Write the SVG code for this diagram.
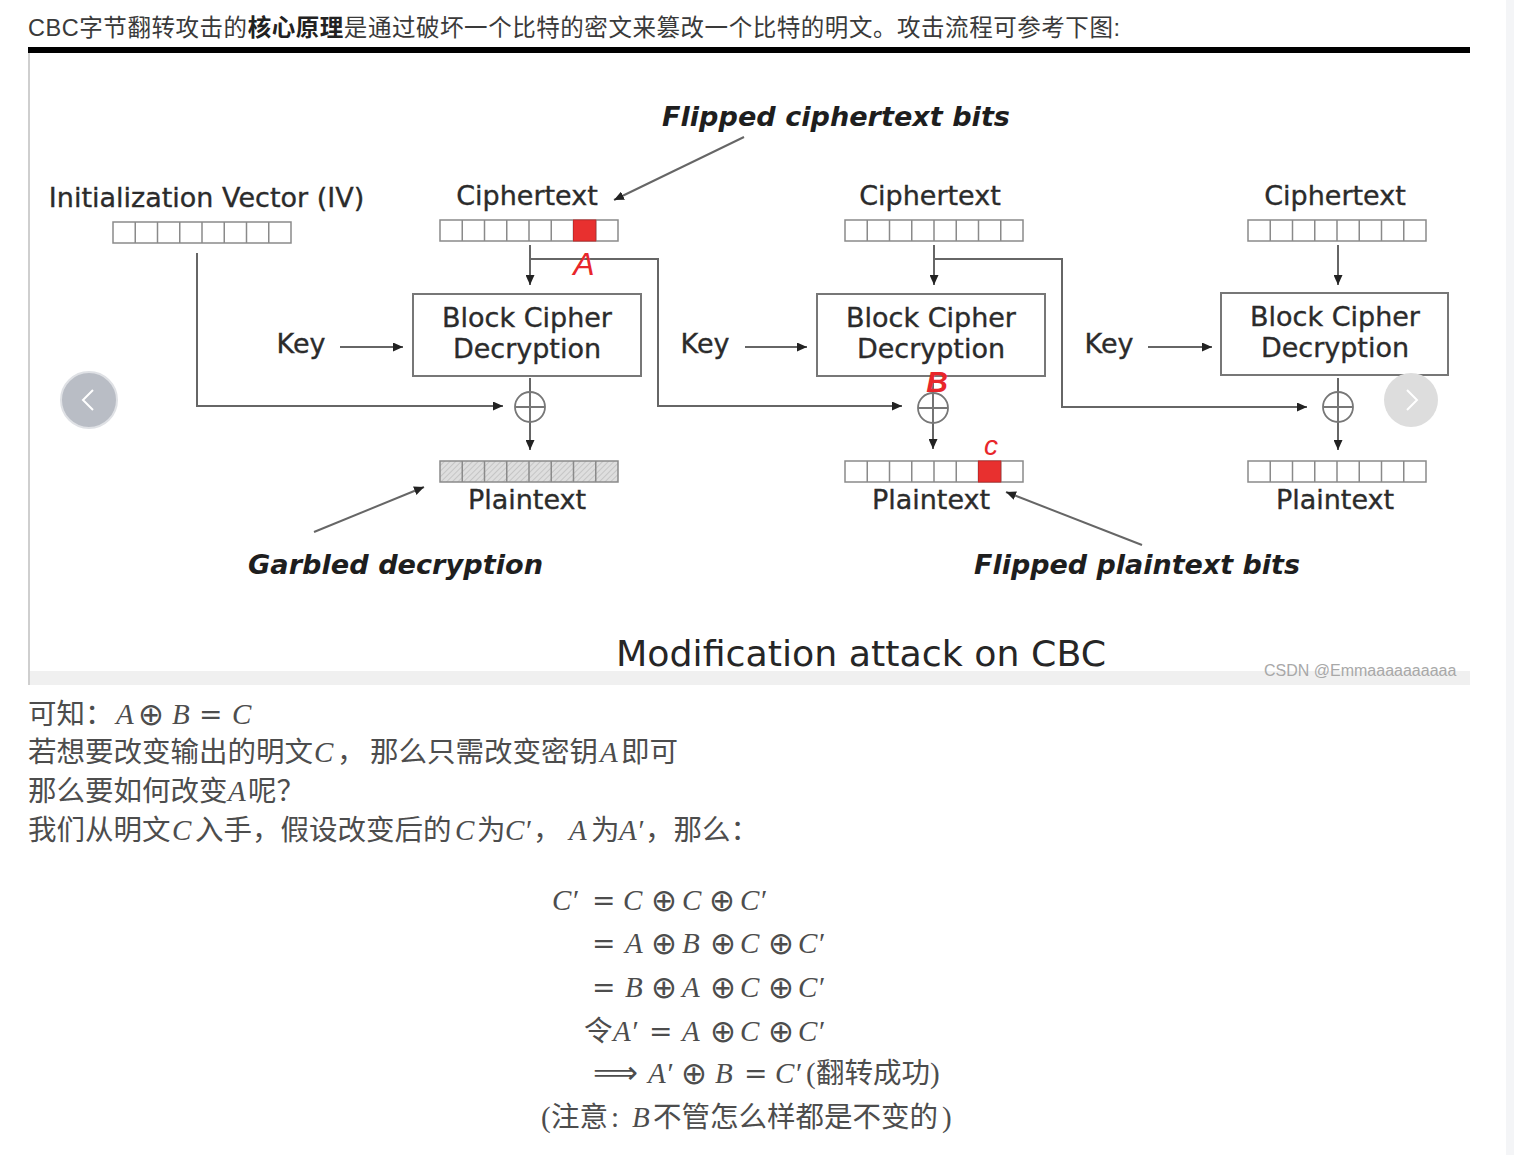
<svg xmlns="http://www.w3.org/2000/svg" width="1514" height="1155" viewBox="0 0 1514 1155">
<style>
.hdr{font-family:"Liberation Sans","Noto Sans CJK SC",sans-serif;font-size:23.5px;fill:#3a3a3a}
.lbl{font-family:"DejaVu Sans",sans-serif;font-size:27px;fill:#2b2b2b;stroke:#2b2b2b;stroke-width:0.35;text-anchor:middle}
.cap{font-family:"DejaVu Sans",sans-serif;font-size:27px;font-weight:bold;font-style:italic;fill:#1e1e1e}
.ttl{font-family:"DejaVu Sans",sans-serif;font-size:35px;fill:#262626}
.ln{fill:none;stroke:#666;stroke-width:2}
.box{fill:#fff;stroke:#777;stroke-width:2}
.red{fill:#e8302f;stroke:#c62828;stroke-width:1}
.hand{font-family:"Liberation Sans",sans-serif;font-style:italic;fill:#e8262b;text-anchor:middle}
.cn{font-family:"Liberation Serif","Noto Sans CJK SC",serif;font-size:28.5px;fill:#4d4d4d}
.mi{font-family:"Liberation Serif","DejaVu Serif",serif;font-style:italic;font-size:29px;fill:#4d4d4d}
.mo{font-family:"Liberation Serif","DejaVu Serif",serif;font-size:29px;fill:#4d4d4d}
.eq{font-family:"DejaVu Serif",serif;font-size:28px;fill:#4d4d4d}
.ox{font-family:"DejaVu Sans",sans-serif;font-size:31px;fill:#4d4d4d}
</style>
<defs>
<marker id="ah" markerWidth="10" markerHeight="9" refX="10" refY="4.5" orient="auto" markerUnits="userSpaceOnUse"><path d="M0,0 L10,4.5 L0,9 z" fill="#222"/></marker>
<pattern id="hatch" width="4" height="4" patternUnits="userSpaceOnUse" patternTransform="rotate(45)"><rect width="4" height="4" fill="#dedede"/><line x1="0" y1="0" x2="0" y2="4" stroke="#bdbdbd" stroke-width="1.5"/></pattern>
<g id="row" stroke="#8a8a8a" stroke-width="1.5"><rect x="0" y="0" width="178" height="21"/><path d="M22.25,0v21M44.5,0v21M66.75,0v21M89,0v21M111.25,0v21M133.5,0v21M155.75,0v21"/></g>
<g id="xorsym" fill="none" stroke="#777" stroke-width="1.8"><circle r="15"/><path d="M-15,0H15M0,-15V15"/></g>
</defs>
<rect width="1514" height="1155" fill="#fff"/>
<rect x="1506" y="0" width="8" height="1155" fill="#f4f5f7"/>

<text class="hdr" x="28" y="36" textLength="1092" lengthAdjust="spacing">CBC字节翻转攻击的<tspan font-weight="bold" fill="#222">核心原理</tspan>是通过破坏一个比特的密文来篡改一个比特的明文。攻击流程可参考下图:</text>

<g id="frame">
<rect x="28" y="47" width="1442" height="6" fill="#000"/>
<rect x="28" y="53" width="2" height="632" fill="#cfcfcf"/>
<rect x="30" y="671" width="1440" height="14" fill="#f0f0f0"/>
</g>

<g id="connectors">
<path class="ln" d="M197,253V406H503" marker-end="url(#ah)"/>
<path class="ln" d="M530,245V285" marker-end="url(#ah)"/>
<path class="ln" d="M530,259H658V406H902" marker-end="url(#ah)"/>
<path class="ln" d="M340,347H403" marker-end="url(#ah)"/>
<path class="ln" d="M530,378V450" marker-end="url(#ah)"/>
<path class="ln" d="M934,245V285" marker-end="url(#ah)"/>
<path class="ln" d="M934,259H1062V407H1307" marker-end="url(#ah)"/>
<path class="ln" d="M745,347H807" marker-end="url(#ah)"/>
<path class="ln" d="M933,378V449" marker-end="url(#ah)"/>
<path class="ln" d="M1338,245V285" marker-end="url(#ah)"/>
<path class="ln" d="M1148,347H1212" marker-end="url(#ah)"/>
<path class="ln" d="M1338,378V450" marker-end="url(#ah)"/>
<path class="ln" d="M744,137L614,200" marker-end="url(#ah)"/>
<path class="ln" d="M314,532L424,487" marker-end="url(#ah)"/>
<path class="ln" d="M1142,545L1006,492" marker-end="url(#ah)"/>
</g>

<g id="iv">
<text class="lbl" x="206.5" y="207">Initialization Vector (IV)</text>
<use href="#row" x="113" y="222" fill="#fff"/>
</g>

<g id="ct1">
<text class="lbl" x="527" y="205">Ciphertext</text>
<use href="#row" x="440" y="220" fill="#fff"/>
<rect class="red" x="573.5" y="220" width="22.25" height="21"/>
<text class="hand" x="584" y="275" font-size="32">A</text>
</g>
<g id="ct2">
<text class="lbl" x="930" y="205">Ciphertext</text>
<use href="#row" x="845" y="220" fill="#fff"/>
</g>
<g id="ct3">
<text class="lbl" x="1335" y="205">Ciphertext</text>
<use href="#row" x="1248" y="220" fill="#fff"/>
</g>

<g id="key1"><text class="lbl" x="301" y="353">Key</text></g>
<g id="key2"><text class="lbl" x="705" y="353">Key</text></g>
<g id="key3"><text class="lbl" x="1109" y="353">Key</text></g>

<g id="bc1">
<rect class="box" x="413" y="294" width="228" height="82"/>
<text class="lbl" x="527" y="327">Block Cipher</text>
<text class="lbl" x="527" y="358">Decryption</text>
</g>
<g id="bc2">
<rect class="box" x="817" y="294" width="228" height="82"/>
<text class="lbl" x="931" y="327">Block Cipher</text>
<text class="lbl" x="931" y="358">Decryption</text>
<text class="hand" x="937" y="392" font-size="30" font-weight="bold">B</text>
</g>
<g id="bc3">
<rect class="box" x="1221" y="293" width="227" height="82"/>
<text class="lbl" x="1335" y="326">Block Cipher</text>
<text class="lbl" x="1335" y="357">Decryption</text>
</g>

<g id="xor1"><use href="#xorsym" x="530" y="407"/></g>
<g id="xor2"><use href="#xorsym" x="933" y="408"/></g>
<g id="xor3"><use href="#xorsym" x="1338" y="407"/></g>

<g id="pt1">
<rect x="440" y="461" width="178" height="21" fill="url(#hatch)"/>
<use href="#row" x="440" y="461" fill="none"/>
<text class="lbl" x="527" y="509">Plaintext</text>
</g>
<g id="pt2">
<use href="#row" x="845" y="461" fill="#fff"/>
<rect class="red" x="978.5" y="461" width="22.25" height="21"/>
<text class="hand" x="991" y="455" font-size="28">c</text>
<text class="lbl" x="931" y="509">Plaintext</text>
</g>
<g id="pt3">
<use href="#row" x="1248" y="461" fill="#fff"/>
<text class="lbl" x="1335" y="509">Plaintext</text>
</g>

<g id="captions">
<text class="cap" x="662" y="126" textLength="348" lengthAdjust="spacingAndGlyphs">Flipped ciphertext bits</text>
<text class="cap" x="248" y="574" textLength="295" lengthAdjust="spacingAndGlyphs">Garbled decryption</text>
<text class="cap" x="974" y="574" textLength="326" lengthAdjust="spacingAndGlyphs">Flipped plaintext bits</text>
<text class="ttl" x="616" y="666" textLength="490" lengthAdjust="spacingAndGlyphs">Modification attack on CBC</text>
<text x="1264" y="676" font-family="Liberation Sans, sans-serif" font-size="16" fill="#a8a8a8">CSDN @Emmaaaaaaaaaa</text>
</g>

<g id="nav-left">
<circle cx="89" cy="400" r="28" fill="#b9bdc5" stroke="#dfe1e5" stroke-width="2"/>
<polyline points="93,390 83,400 93,410" fill="none" stroke="#fff" stroke-width="2"/>
</g>
<g id="nav-right">
<circle cx="1411" cy="400" r="27" fill="#dddddd"/>
<polyline points="1407,390 1417,400 1407,410" fill="none" stroke="#fff" stroke-width="2"/>
</g>

<g id="prose">
<text class="cn" x="28" y="724">可知：</text>
<text class="mi" x="116" y="724">A</text>
<text class="ox" x="138" y="725">⊕</text>
<text class="mi" x="172" y="724">B</text>
<text class="eq" x="199" y="724">=</text>
<text class="mi" x="232" y="724">C</text>

<text class="cn" x="28" y="762">若想要改变输出的明文</text>
<text class="mi" x="314" y="762">C</text>
<text class="cn" x="337" y="762">，</text>
<text class="cn" x="370" y="762">那么只需改变密钥</text>
<text class="mi" x="600" y="762">A</text>
<text class="cn" x="621" y="762">即可</text>

<text class="cn" x="28" y="801">那么要如何改变</text>
<text class="mi" x="228" y="801">A</text>
<text class="cn" x="248" y="801">呢？</text>

<text class="cn" x="28" y="840">我们从明文</text>
<text class="mi" x="172" y="840">C</text>
<text class="cn" x="195" y="840">入手，假设改变后的</text>
<text class="mi" x="455" y="840">C</text>
<text class="cn" x="477" y="840">为</text>
<text class="mi" x="505" y="840">C′</text>
<text class="cn" x="533" y="840">，</text>
<text class="mi" x="569" y="840">A</text>
<text class="cn" x="591" y="840">为</text>
<text class="mi" x="619" y="840">A′</text>
<text class="cn" x="645" y="840">，那么：</text>
</g>

<g id="math">
<text class="mi" x="552" y="910">C′</text>
<text class="eq" x="592" y="910">=</text>
<text class="mi" x="623" y="910">C</text>
<text class="ox" x="651" y="911">⊕</text>
<text class="mi" x="682" y="910">C</text>
<text class="ox" x="709" y="911">⊕</text>
<text class="mi" x="740" y="910">C′</text>

<text class="eq" x="592" y="953">=</text>
<text class="mi" x="625" y="953">A</text>
<text class="ox" x="651" y="954">⊕</text>
<text class="mi" x="682" y="953">B</text>
<text class="ox" x="710" y="954">⊕</text>
<text class="mi" x="740" y="953">C</text>
<text class="ox" x="768" y="954">⊕</text>
<text class="mi" x="798" y="953">C′</text>

<text class="eq" x="592" y="997">=</text>
<text class="mi" x="625" y="997">B</text>
<text class="ox" x="651" y="998">⊕</text>
<text class="mi" x="682" y="997">A</text>
<text class="ox" x="710" y="998">⊕</text>
<text class="mi" x="740" y="997">C</text>
<text class="ox" x="768" y="998">⊕</text>
<text class="mi" x="798" y="997">C′</text>

<text class="cn" x="584" y="1041">令</text>
<text class="mi" x="613" y="1041">A′</text>
<text class="eq" x="649" y="1041">=</text>
<text class="mi" x="682" y="1041">A</text>
<text class="ox" x="710" y="1042">⊕</text>
<text class="mi" x="740" y="1041">C</text>
<text class="ox" x="768" y="1042">⊕</text>
<text class="mi" x="798" y="1041">C′</text>

<text class="ox" x="593" y="1083" textLength="45" lengthAdjust="spacingAndGlyphs">⟹</text>
<text class="mi" x="648" y="1083">A′</text>
<text class="ox" x="681" y="1084">⊕</text>
<text class="mi" x="715" y="1083">B</text>
<text class="eq" x="744" y="1083">=</text>
<text class="mi" x="775" y="1083">C′</text>
<text class="mo" x="806" y="1083">(</text>
<text class="cn" x="816" y="1083">翻转成功</text>
<text class="mo" x="930" y="1083">)</text>

<text class="mo" x="541" y="1127">(</text>
<text class="cn" x="551" y="1127">注意</text>
<text class="mo" x="611" y="1127">:</text>
<text class="mi" x="632" y="1127">B</text>
<text class="cn" x="653" y="1127">不管怎么样都是不变的</text>
<text class="mo" x="942" y="1127">)</text>
</g>
</svg>
